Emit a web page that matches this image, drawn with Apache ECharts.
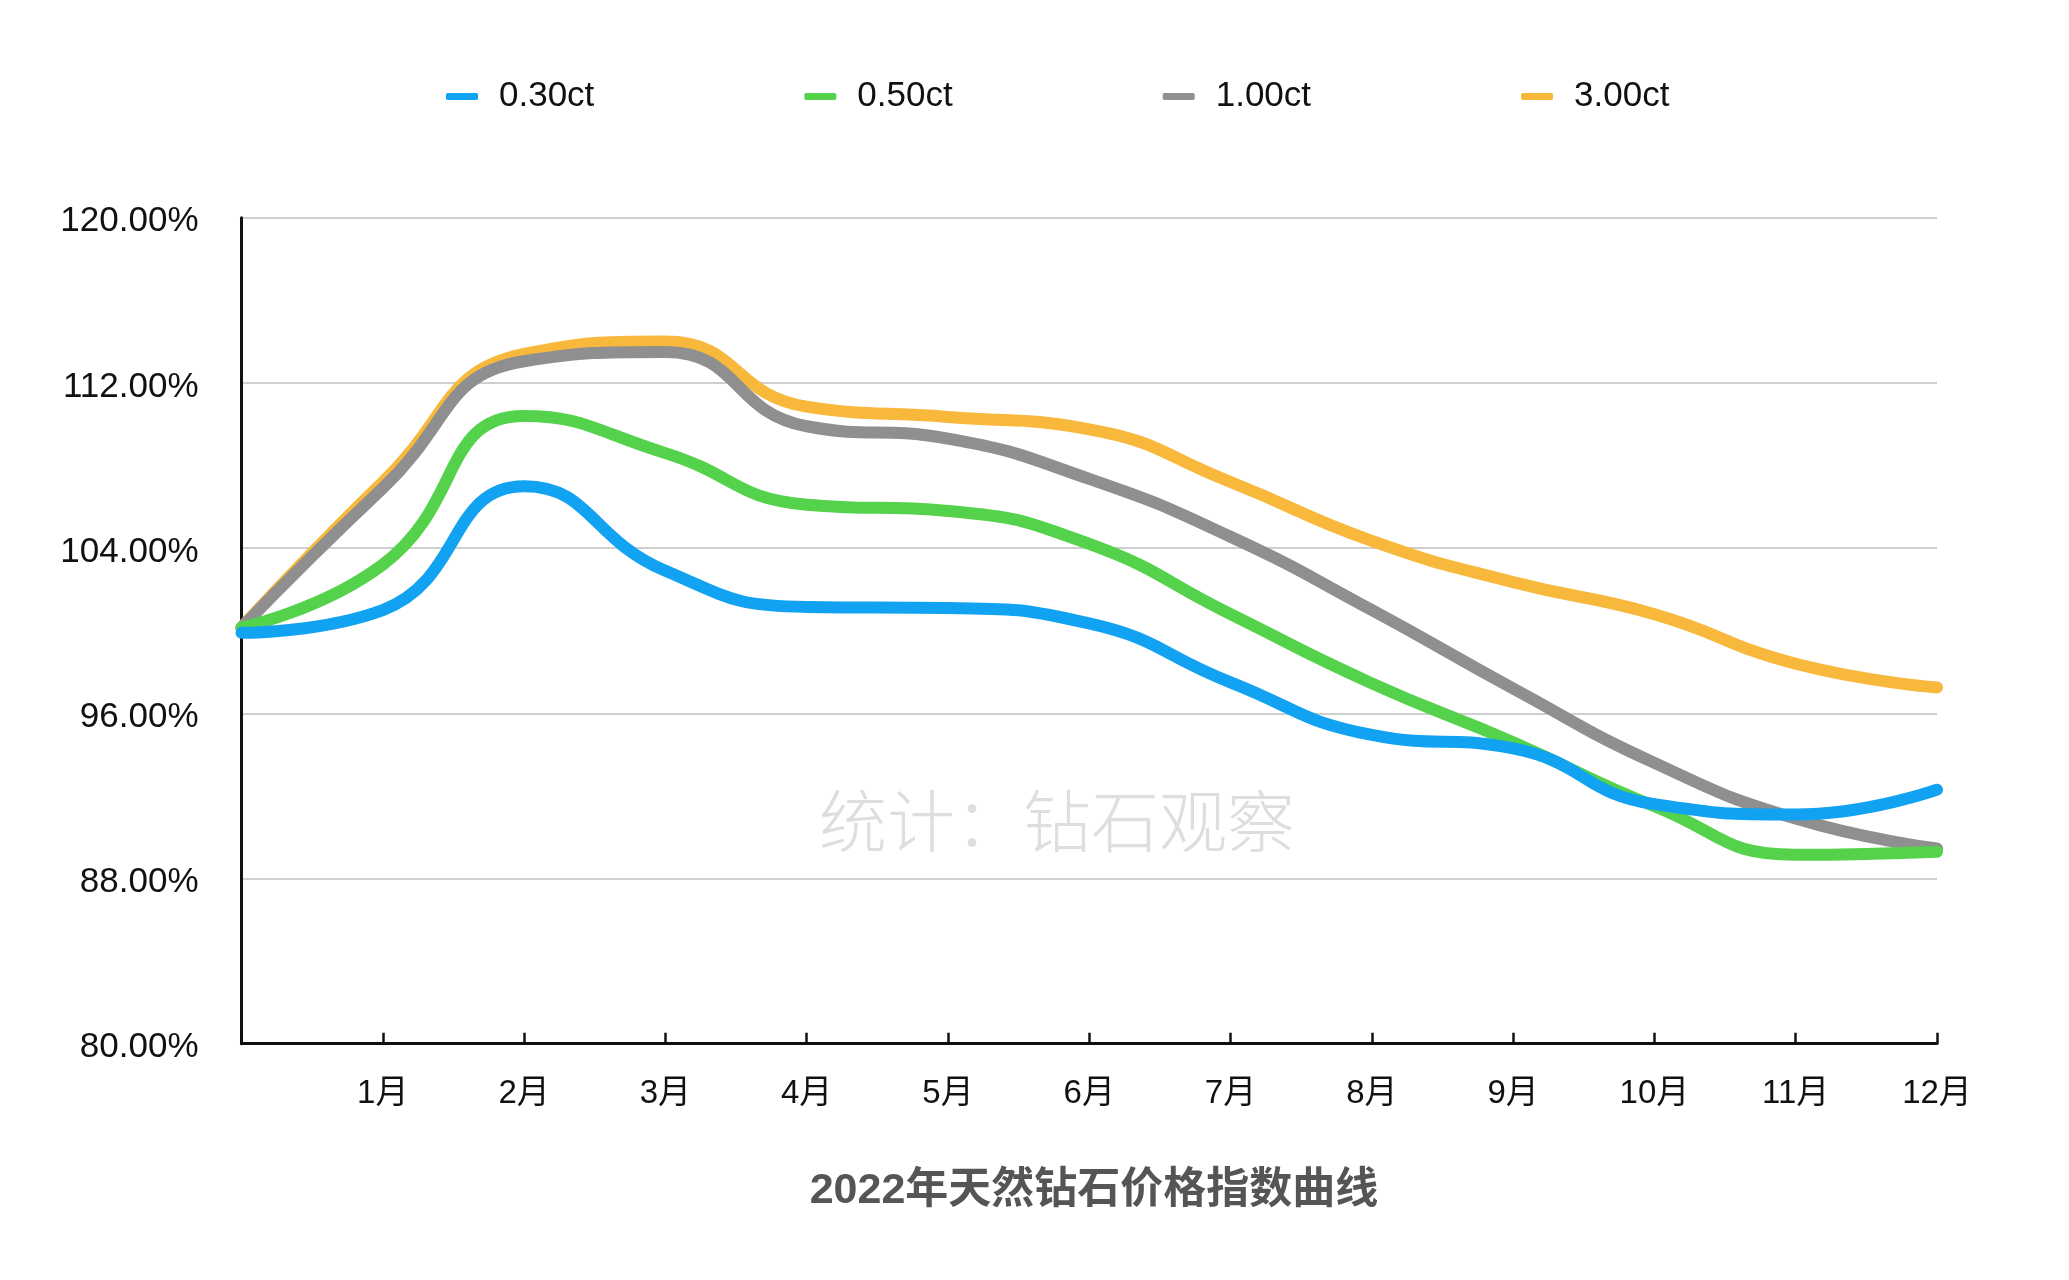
<!DOCTYPE html>
<html>
<head>
<meta charset="utf-8">
<style>
html,body{margin:0;padding:0;background:#fff;}
#chart{width:2069px;height:1280px;}
</style>
<script src="https://cdn.jsdelivr.net/npm/echarts@6/dist/echarts.min.js"></script>
</head>
<body>
<div id="chart"></div>
<script>
const categories = ['', '1月', '2月', '3月', '4月', '5月', '6月', '7月', '8月', '9月', '10月', '11月', '12月'];
const seriesNames = ['0.30ct', '0.50ct', '1.00ct', '3.00ct'];
const ct030 = [99.9, 101.0, 107.0, 102.9, 101.15, 101.1, 100.35, 97.5, 94.95, 94.3, 91.6, 91.1, 92.3];
const ct050 = [100.15, 103.2, 110.4, 108.6, 106.1, 105.8, 104.2, 100.8, 97.45, 94.6, 91.5, 89.15, 89.3];
const ct100 = [100.15, 106.9, 113.05, 113.5, 109.9, 109.3, 107.35, 104.55, 101.0, 97.2, 93.6, 90.9, 89.45];
const ct300 = [100.15, 107.2, 113.4, 114.0, 110.85, 110.35, 109.75, 107.2, 104.35, 102.35, 100.8, 98.4, 97.25];
const yTicks = [80, 88, 96, 104, 112, 120];
const colors = ['#12A2F2', '#55D24B', '#8F8F8F', '#F8B83C'];
const seriesData = [ct030, ct050, ct100, ct300];

const FONT = "'Liberation Sans', Arial, 'Noto Sans CJK SC', sans-serif";
const chart = echarts.init(document.getElementById('chart'));

// draw order: yellow at bottom, blue on top
const order = [3, 2, 1, 0];
const series = order.map(i => ({
  name: seriesNames[i],
  type: 'line',
  data: seriesData[i],
  smooth: 0.5,
  showSymbol: false,
  symbol: 'none',
  lineStyle: { width: 12, color: colors[i], cap: 'round' },
  itemStyle: { color: colors[i] },
  z: 2 + (3 - i)
}));

chart.setOption({
  animation: false,
  backgroundColor: '#fff',
  title: {
    text: '2022年天然钻石价格指数曲线',
    left: 1089, top: 1165, textAlign: 'center',
    textStyle: { fontSize: 43, fontWeight: 'bold', color: '#555', fontFamily: "'Liberation Sans', 'Noto Sans CJK SC', sans-serif" }
  },
  legend: {
    data: seriesNames,
    left: 441, top: 74,
    icon: 'roundRect',
    itemWidth: 32, itemHeight: 7,
    itemGap: 210,
    textStyle: { fontSize: 35, color: '#111', fontFamily: FONT, width: 100, padding: [0, 0, 0, 16] }
  },
  grid: { left: 241.5, right: 132, top: 217.7, bottom: 236.3, containLabel: false },
  xAxis: {
    type: 'category',
    data: categories,
    boundaryGap: false,
    axisLine: { show: true, lineStyle: { color: '#111', width: 3 } },
    axisTick: { show: true, inside: true, length: 11, lineStyle: { color: '#111', width: 2.5 }, interval: 0 },
    axisLabel: { interval: 0, fontSize: 33, color: '#111', margin: 34, fontFamily: FONT },
    splitLine: { show: false }
  },
  yAxis: {
    type: 'value',
    min: yTicks[0], max: yTicks[yTicks.length - 1], interval: 8,
    axisLine: { show: true, lineStyle: { color: '#111', width: 3 } },
    axisTick: { show: false },
    axisLabel: { fontSize: 35, color: '#111', margin: 43, fontFamily: FONT, verticalAlign: 'top', lineHeight: 8, formatter: v => v.toFixed(2) + '%' },
    splitLine: { show: true, lineStyle: { color: '#cfcfcf', width: 2 } }
  },
  graphic: [{
    type: 'text',
    left: 819, top: 787,
    style: {
      text: '统计：钻石观察',
      fontSize: 68,
      fontFamily: "'Noto Sans CJK SC', sans-serif",
      fontWeight: 300,
      fill: '#dedede'
    },
    z: 1
  }],
  series: series
});
</script>
</body>
</html>
